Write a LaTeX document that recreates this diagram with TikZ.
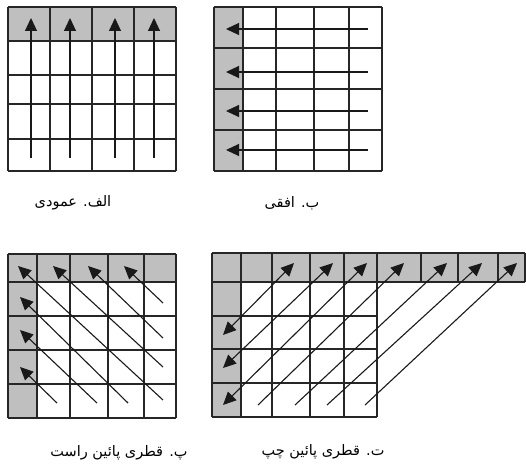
\documentclass[tikz,border=0pt]{standalone}
\usepackage{fontspec}
\newfontfamily\arabicfont[Script=Arabic]{DejaVu Sans}
\TeXXeTstate=1
\usetikzlibrary{arrows.meta}
\begin{document}
\begin{tikzpicture}[x=1pt,y=-1pt,
  cellgray/.style={fill=black!25},
  gridline/.style={line width=1.1pt,draw=black!85},
  arr/.style={line width=1.1pt,draw=black!90,-{Triangle[length=13pt,width=12pt]}},
  darr/.style={line width=1.1pt,draw=black!90,{Triangle[length=13pt,width=12pt]}-{Triangle[length=13pt,width=12pt]}},
  lbl/.style={font=\arabicfont\fontsize{14.5}{16}\selectfont,inner sep=1pt}]
\useasboundingbox (0,0) rectangle (526,470);
% ---- alef: vertical
\fill[cellgray] (8,7) rectangle (176,41);
\foreach \x in {8,50,92,134,176} \draw[gridline] (\x,7) -- (\x,171);
\foreach \y in {7,41,75,104,139,171} \draw[gridline] (8,\y) -- (176,\y);
\foreach \x in {31,70,115,154} \draw[arr] (\x,158) -- (\x,18);
\node[lbl] (la) at (73,203) {\beginR الف. عمودی\endR};
% ---- be: horizontal
\fill[cellgray] (214,7) rectangle (243,171);
\foreach \x in {214,243,276,314,349,382} \draw[gridline] (\x,7) -- (\x,171);
\foreach \y in {7,48,89,130,171} \draw[gridline] (214,\y) -- (382,\y);
\foreach \y in {29,72,111,150} \draw[arr] (368,\y) -- (226,\y);
\node[lbl] (lb) at (292,203) {\beginR ب. افقی\endR};
% ---- pe: diagonal down-right
\fill[cellgray] (8,254) rectangle (176,282);
\fill[cellgray] (8,254) rectangle (37,418);
\foreach \x in {8,37,70,108,144,176} \draw[gridline] (\x,254) -- (\x,418);
\foreach \y in {254,282,316,350,384,418} \draw[gridline] (8,\y) -- (176,\y);
\foreach \a/\b/\c/\d in {163/303/124/266,163/338/88/266,163/367/53/266,163/400/18/266,128/403/20/297,97/403/20/330,57/403/20/367}
  \draw[arr] (\a,\b) -- (\c,\d);
\node[lbl] (lp) at (119,453) {\beginR پ. قطری پائین راست\endR};
% ---- te: diagonal down-left
\fill[cellgray] (212,253) rectangle (525,282);
\fill[cellgray] (212,253) rectangle (241,417);
\foreach \x in {212,241,272,310,344,377,421,458,498,525} \draw[gridline] (\x,253) -- (\x,282);
\foreach \x in {212,241,272,310,344,377} \draw[gridline] (\x,282) -- (\x,417);
\foreach \y in {253,282} \draw[gridline] (212,\y) -- (525,\y);
\foreach \y in {316,349,383,417} \draw[gridline] (212,\y) -- (377,\y);
\foreach \a/\b/\c/\d in {223/335/294/263,223/368/333/263,223/405/367/263}
  \draw[darr] (\a,\b) -- (\c,\d);
\foreach \a/\b/\c/\d in {258/405/404/263,295/405/447/263,327/405/482/263,365/405/517/263}
  \draw[arr] (\a,\b) -- (\c,\d);
\node[lbl] (lt) at (323,452) {\beginR ت. قطری پائین چپ\endR};
\end{tikzpicture}
\end{document}
